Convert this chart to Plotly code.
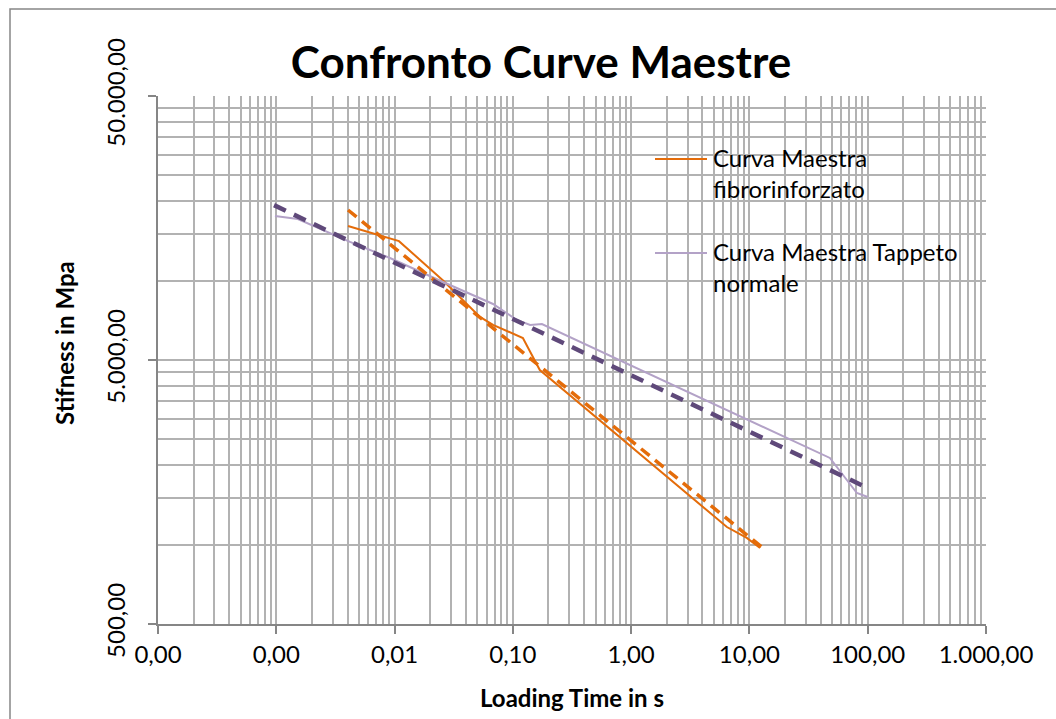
import math
import plotly.graph_objects as go

# Master curves: loading time (s) vs stiffness (MPa)
fib_name = "Curva Maestra fibrorinforzato"
fib_time = [0.00404, 0.0109, 0.0257, 0.0527, 0.068, 0.1216, 0.169, 6.45, 9.5, 12.3]
fib_stiff = [16100, 14100, 10000, 7280, 6790, 6060, 4580, 1165, 1059, 970]

tap_name = "Curva Maestra Tappeto normale"
tap_time = [0.000975, 0.00152, 0.0042, 0.00914, 0.0257, 0.068, 0.108, 0.14, 0.176, 47.9, 81, 100]
tap_stiff = [17560, 17100, 14000, 12170, 9870, 8150, 7090, 6790, 6840, 2128, 1567, 1514]

# Power-law trend lines (end points)
fib_trend_time = [0.00404, 13.0]
fib_trend_stiff = [18500, 970]
tap_trend_time = [0.000957, 100]
tap_trend_stiff = [19300, 1637]

# Axis ticks
x_ticks = [0.0001, 0.001, 0.01, 0.1, 1, 10, 100, 1000]
x_minor = [k * 10.0 ** e for e in range(-4, 3) for k in range(2, 10)]
y_ticks = [500, 5000, 50000]
y_minor = [500 * k for k in range(2, 10)] + [5000 * k for k in range(2, 10)]

ORANGE = "#E46C0A"
LILAC = "#B3A2C7"
PURPLE = "#5F497A"
GRID = "#B2B2B2"
AXIS = "#868686"
FONT = "Lato"

# plot area in pixels
W, H = 1056, 719
L, R, T, B = 158, 986, 96, 624


def it_num(v):
    s = f"{v:,.2f}"
    return s.replace(",", "X").replace(".", ",").replace("X", ".")


def px_x(p):
    return (p - L) / (R - L)


def px_y(p):
    return (B - p) / (B - T)


fig = go.Figure()
fig.add_trace(go.Scatter(x=fib_time, y=fib_stiff, mode="lines", name=fib_name,
                         line=dict(color=ORANGE, width=2), showlegend=False))
fig.add_trace(go.Scatter(x=tap_time, y=tap_stiff, mode="lines", name=tap_name,
                         line=dict(color=LILAC, width=2), showlegend=False))
fig.add_trace(go.Scatter(x=fib_trend_time, y=fib_trend_stiff, mode="lines",
                         line=dict(color=ORANGE, width=3.5, dash="11px,7px"), showlegend=False))
fig.add_trace(go.Scatter(x=tap_trend_time, y=tap_trend_stiff, mode="lines",
                         line=dict(color=PURPLE, width=4.5, dash="13px,9px"), showlegend=False))

fig.update_xaxes(
    type="log", range=[-4, 3],
    tickvals=x_ticks, ticktext=[it_num(v) for v in x_ticks],
    ticks="outside", ticklen=8, tickcolor=AXIS, tickwidth=1.5,
    showline=True, linecolor=AXIS, linewidth=1.5,
    showgrid=True, gridcolor=GRID, gridwidth=1.5,
    minor=dict(tickvals=x_minor, showgrid=True, gridcolor=GRID, gridwidth=1.5, ticks=""),
    tickfont=dict(family=FONT, size=24, color="black"),
    zeroline=False,
)
fig.update_yaxes(
    type="log", range=[math.log10(500), math.log10(50000)],
    tickvals=y_ticks, ticktext=[it_num(v) for v in y_ticks], tickangle=-90,
    ticks="outside", ticklen=8, tickcolor=AXIS, tickwidth=1.5,
    showline=True, linecolor=AXIS, linewidth=1.5,
    showgrid=True, gridcolor=GRID, gridwidth=1.5,
    minor=dict(tickvals=y_minor, showgrid=True, gridcolor=GRID, gridwidth=1.5, ticks=""),
    tickfont=dict(family=FONT, size=24, color="black"),
    ticklabelstandoff=14,
    zeroline=False,
)

shapes = [
    # outer chart border
    dict(type="rect", xref="paper", yref="paper",
         x0=px_x(10), x1=px_x(W + 10), y0=px_y(H + 10), y1=px_y(9),
         line=dict(color=AXIS, width=1.5), fillcolor="rgba(0,0,0,0)", layer="above"),
    # legend background
    dict(type="rect", xref="paper", yref="paper",
         x0=px_x(650), x1=1.0, y0=px_y(316), y1=px_y(128),
         line=dict(width=0), fillcolor="rgba(255,255,255,0.62)", layer="between"),
    # legend samples
    dict(type="line", xref="paper", yref="paper",
         x0=px_x(655), x1=px_x(707), y0=px_y(159), y1=px_y(159),
         line=dict(color=ORANGE, width=2)),
    dict(type="line", xref="paper", yref="paper",
         x0=px_x(655), x1=px_x(707), y0=px_y(253), y1=px_y(253),
         line=dict(color=LILAC, width=2)),
]

annotations = [
    dict(text="Curva Maestra<br>fibrorinforzato", xref="paper", yref="paper",
         x=px_x(711), y=px_y(141), xanchor="left", yanchor="top", align="left",
         showarrow=False, font=dict(family=FONT, size=24, color="black")),
    dict(text="Curva Maestra Tappeto<br>normale", xref="paper", yref="paper",
         x=px_x(711), y=px_y(235), xanchor="left", yanchor="top", align="left",
         showarrow=False, font=dict(family=FONT, size=24, color="black")),
    dict(text="<b>Stifness in Mpa</b>", xref="paper", yref="paper",
         x=px_x(64), y=px_y(343), xanchor="center", yanchor="middle", textangle=-90,
         showarrow=False, font=dict(family=FONT, size=24, color="black")),
    dict(text="<b>Loading Time in s</b>", xref="paper", yref="paper",
         x=px_x(572), y=px_y(697), xanchor="center", yanchor="middle",
         showarrow=False, font=dict(family=FONT, size=24, color="black")),
]

fig.update_layout(
    width=W, height=H,
    margin=dict(l=L, r=W - R, t=T, b=H - B),
    paper_bgcolor="white", plot_bgcolor="white",
    title=dict(text="<b>Confronto Curve Maestre</b>", xref="container", yref="container",
               x=541 / W, y=1 - 63 / H, xanchor="center", yanchor="middle",
               font=dict(family=FONT, size=44, color="black")),
    shapes=shapes, annotations=annotations,
    showlegend=False,
)

fig.write_html("out.html")
